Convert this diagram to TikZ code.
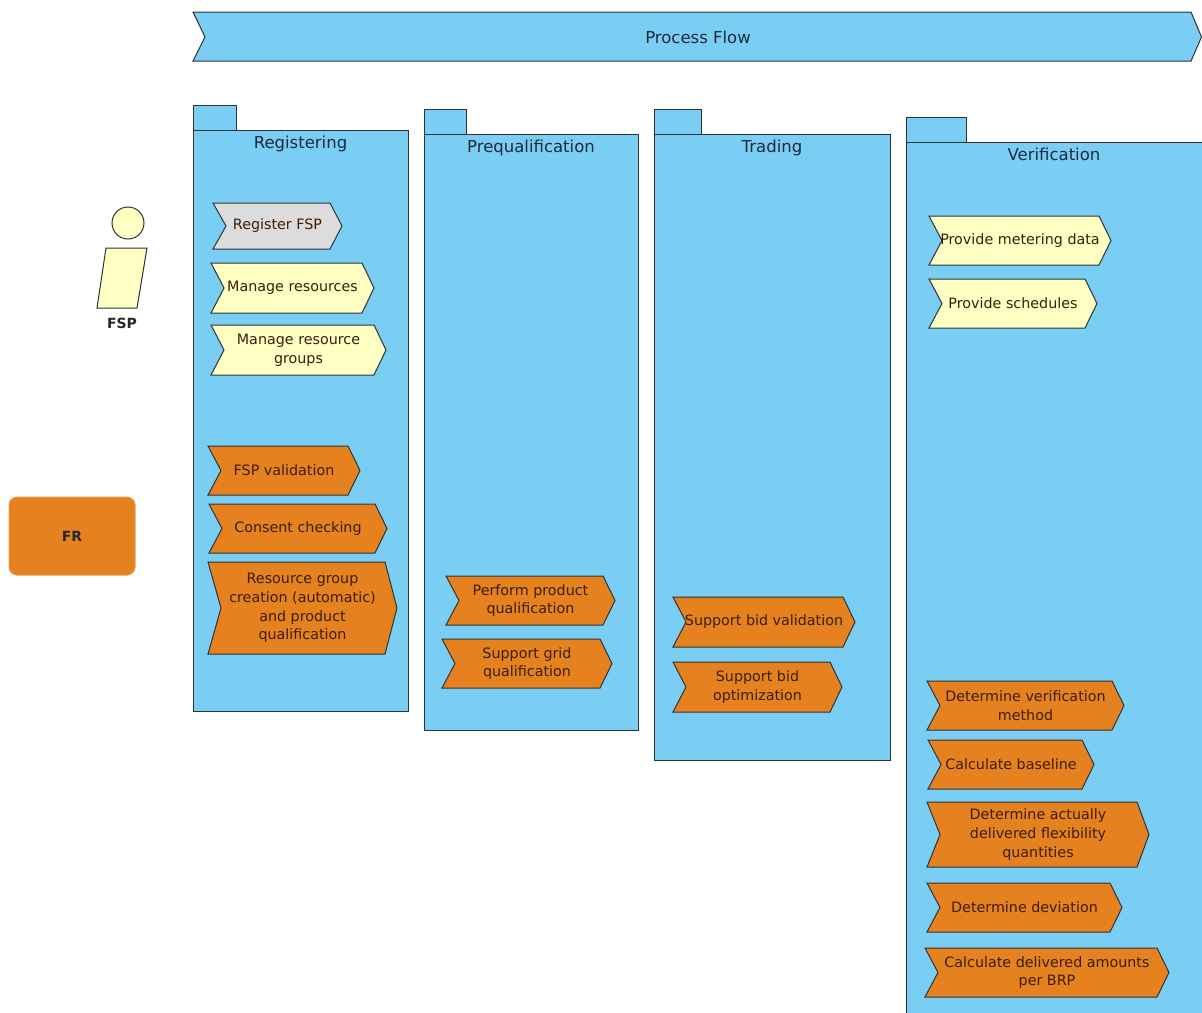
\documentclass[tikz,border=0pt]{standalone}
\usepackage{fontspec}
\setmainfont{DejaVu Sans}
\definecolor{pkgblue}{HTML}{7ACEF4}
\definecolor{chorange}{HTML}{E5821F}
\definecolor{chyellow}{HTML}{FFFFC4}
\definecolor{chgray}{HTML}{DCDCDC}
\definecolor{linec}{HTML}{2E3238}
\definecolor{titlec}{HTML}{1C2B3C}
\definecolor{otext}{HTML}{3A1E08}
\tikzset{
  outline/.style={draw=linec, line width=1pt, line join=miter},
  pkg/.style={outline, fill=pkgblue},
  ttl/.style={inner sep=0pt, anchor=base, text=titlec, font=\fontsize{16.5}{20}\selectfont},
  chevline/.style={outline},
  orangefill/.style={fill=chorange},
  yellowfill/.style={fill=chyellow},
  grayfill/.style={fill=chgray},
  chevtext/.style={inner sep=0pt, align=center, text=otext, font=\fontsize{14.3}{18.7}\selectfont},
  actor/.style={outline, fill=chyellow},
  frbox/.style={draw=chorange!80!white, line width=1pt, fill=chorange, rounded corners=8pt,
     minimum width=126pt, minimum height=78pt, inner sep=0pt, text=black!85,
     font=\bfseries\fontsize{14}{17}\selectfont},
}
\newcommand\chev[7]{%
  \draw[chevline,#6] (#2,#3) -- ({#4-12},#3) -- (#4,{(#3+#5)/2}) -- ({#4-12},#5)
     -- (#2,#5) -- ({#2+13},{(#3+#5)/2}) -- cycle;
  \node[chevtext] (#1) at ({(#2+#4)/2},{(#3+#5)/2}) {#7};
}
\begin{document}
\begin{tikzpicture}[x=1pt,y=-1pt]
\useasboundingbox (0,0) rectangle (1202,1012);
\clip (0,0) rectangle (1202,1012);
\fill[white] (0,0) rectangle (1202,1012);

% banner
\draw[pkg] (193,12) -- (1191,12) -- (1201.5,37) -- (1191,61) -- (193,61) -- (205,37) -- cycle;
\node[ttl] (flow) at (698,43) {Process Flow};

% packages
\draw[pkg] (193,105) rectangle (236,130);
\draw[pkg] (193,130) rectangle (408,711);
\node[ttl] (regt) at (300.5,148) {Registering};

\draw[pkg] (424,109) rectangle (466,134);
\draw[pkg] (424,134) rectangle (638,730);
\node[ttl] (pret) at (531,152) {Prequalification};

\draw[pkg] (654,109) rectangle (701,134);
\draw[pkg] (654,134) rectangle (890,760);
\node[ttl] (trat) at (772,152) {Trading};

\draw[pkg] (906,117) rectangle (966,142);
\draw[pkg] (906,142) rectangle (1212,1030);
\node[ttl] (vert) at (1054,160) {Verification};

% actor FSP
\draw[actor] (128,223) circle[radius=16pt];
\draw[actor] (106,248) -- (147,248) -- (137,308) -- (97,308) -- cycle;
\node[inner sep=0pt, anchor=base, font=\bfseries\fontsize{14}{17}\selectfont, text=black!85] (fsp) at (122,328) {FSP};

% FR
\node[frbox] (fr) at (72,536) {FR};

% Registering
\chev{reg}{213}{203}{342}{249}{grayfill}{Register FSP}
\chev{manres}{211}{263}{374}{313}{yellowfill}{Manage resources}
\chev{mangrp}{211}{325}{386}{375}{yellowfill}{Manage resource\\groups}
\chev{fspval}{208}{446}{360}{495}{orangefill}{FSP validation}
\chev{consent}{209}{504}{387}{553}{orangefill}{Consent checking}
\chev{rgc}{208}{562}{397}{654}{orangefill}{Resource group\\creation (automatic)\\and product\\qualification}

% Prequalification
\chev{ppq}{446}{576}{615}{625}{orangefill}{Perform product\\qualification}
\chev{sgq}{442}{639}{612}{688}{orangefill}{Support grid\\qualification}

% Trading
\chev{sbv}{673}{597}{855}{647}{orangefill}{Support bid validation}
\chev{sbo}{673}{662}{842}{712}{orangefill}{Support bid\\optimization}

% Verification
\chev{pmd}{929}{216}{1111}{265}{yellowfill}{Provide metering data}
\chev{ps}{929}{279}{1097}{328}{yellowfill}{Provide schedules}
\chev{dvm}{927}{681}{1124}{730}{orangefill}{Determine verification\\method}
\chev{cb}{928}{740}{1094}{789}{orangefill}{Calculate baseline}
\chev{dad}{927}{802}{1149}{867}{orangefill}{Determine actually\\delivered flexibility\\quantities}
\chev{dd}{927}{883}{1122}{932}{orangefill}{Determine deviation}
\chev{cda}{925}{948}{1169}{997}{orangefill}{Calculate delivered amounts\\per BRP}
\end{tikzpicture}
\end{document}
